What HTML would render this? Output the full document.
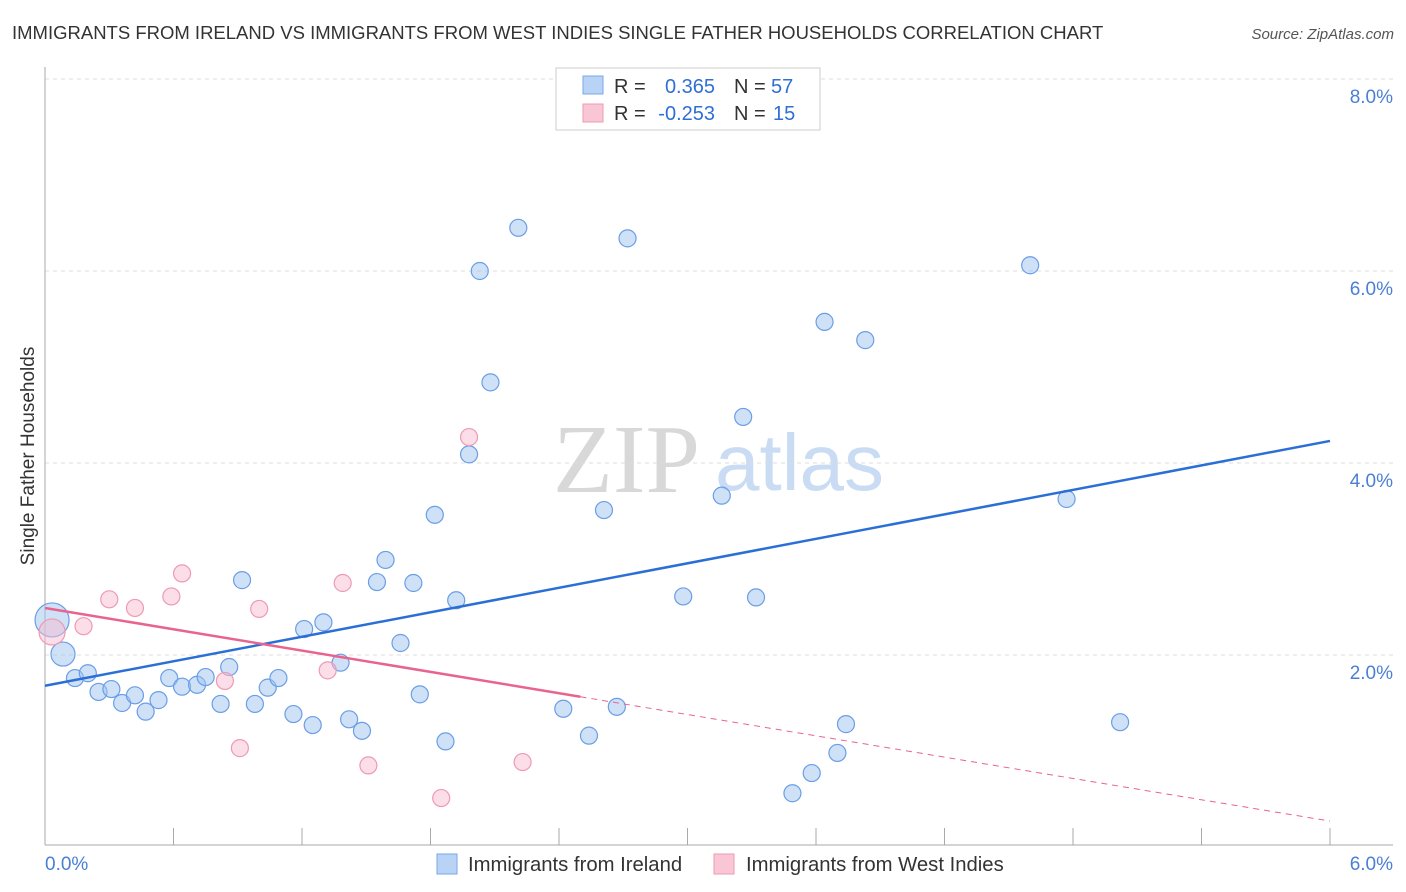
<!DOCTYPE html>
<html><head><meta charset="utf-8"><style>
body{margin:0;background:#fff;font-family:"Liberation Sans",sans-serif;}
#wrap{position:relative;width:1406px;height:892px;overflow:hidden;}
</style></head><body>
<div id="wrap">
<svg id="svg" width="1406" height="892" xmlns="http://www.w3.org/2000/svg">
<text x="12" y="39" font-size="18.5" fill="#333">IMMIGRANTS FROM IRELAND VS IMMIGRANTS FROM WEST INDIES SINGLE FATHER HOUSEHOLDS CORRELATION CHART</text>
<text x="1394" y="39" font-size="15" fill="#555" font-style="italic" text-anchor="end">Source: ZipAtlas.com</text>
<text x="553" y="492" font-size="98" fill="#d8d8d8" font-family="Liberation Serif,serif">ZIP</text>
<text x="715" y="490" font-size="80" fill="#c9dcf3">atlas</text>
<text transform="translate(34,456) rotate(-90)" font-size="19" fill="#333" text-anchor="middle">Single Father Households</text>
<g id="grid"></g>
<line x1="45" y1="67" x2="45" y2="845" stroke="#aaa"/>
<line x1="45" y1="845" x2="1393" y2="845" stroke="#aaa"/>
<g id="ticks"></g>
<g id="pts"></g>
<g id="lines"></g>
<text x="45" y="870" font-size="19" fill="#4a7fd4">0.0%</text>
<text x="1393" y="870" font-size="19" fill="#4a7fd4" text-anchor="end">6.0%</text>
<g>
<rect x="556" y="68" width="264" height="62" fill="#fff" stroke="#ccc"/>
<rect x="583" y="76" width="20" height="18" fill="#b8d3f5" stroke="#7aa7e6"/>
<rect x="583" y="104" width="20" height="18" fill="#f9c6d5" stroke="#ee9ab3"/>
<text x="614" y="93" font-size="20" fill="#333">R =</text>
<text x="715" y="93" font-size="20" fill="#2f6fd6" text-anchor="end">0.365</text>
<text x="734" y="93" font-size="20" fill="#333">N =</text>
<text x="771" y="93" font-size="20" fill="#2f6fd6">57</text>
<text x="614" y="120" font-size="20" fill="#333">R =</text>
<text x="715" y="120" font-size="20" fill="#2f6fd6" text-anchor="end">-0.253</text>
<text x="734" y="120" font-size="20" fill="#333">N =</text>
<text x="773" y="120" font-size="20" fill="#2f6fd6">15</text>
</g>
<g>
<rect x="437" y="854" width="20" height="20" fill="#b8d3f5" stroke="#7aa7e6"/>
<text x="468" y="871" font-size="20.3" fill="#333">Immigrants from Ireland</text>
<rect x="714" y="854" width="20" height="20" fill="#f9c6d5" stroke="#ee9ab3"/>
<text x="746" y="871" font-size="20.3" fill="#333">Immigrants from West Indies</text>
</g>
</svg>
</div>
<script>
const yTicks=[2,4,6,8];
const yTickLabels=["2.0%","4.0%","6.0%","8.0%"];
const xTickCount=10;
const blueX=[0.033,0.084,0.14,0.20,0.25,0.31,0.36,0.42,0.47,0.53,0.58,0.64,0.71,0.75,0.82,0.86,0.92,0.98,1.04,1.09,1.16,1.21,1.25,1.30,1.38,1.42,1.48,1.55,1.59,1.66,1.72,1.75,1.82,1.87,1.92,1.98,2.03,2.08,2.21,2.42,2.54,2.61,2.67,2.72,2.98,3.16,3.26,3.32,3.49,3.58,3.64,3.70,3.74,3.83,4.60,4.77,5.02];
const blueY=[2.365,2.01,1.76,1.81,1.615,1.645,1.50,1.58,1.41,1.53,1.76,1.67,1.69,1.77,1.49,1.875,2.78,1.49,1.66,1.76,1.385,2.27,1.27,2.34,1.92,1.33,1.21,2.76,2.99,2.125,2.75,1.59,3.46,1.10,2.57,4.09,6.00,4.84,6.45,1.44,1.16,3.51,1.46,6.34,2.61,3.66,4.48,2.60,0.56,0.77,5.47,0.98,1.28,5.28,6.06,3.625,1.30];
const pinkX=[0.033,0.18,0.30,0.42,0.59,0.64,0.84,0.91,1.00,1.32,1.39,1.51,1.85,1.98,2.23];
const pinkY=[2.24,2.30,2.58,2.49,2.61,2.85,1.73,1.03,2.48,1.84,2.75,0.85,0.51,4.27,0.885];
const blueTrend=[1.68,4.23];
const pinkTrend=[2.49,0.27];
const pinkSolidEnd=2.5;
const NS="http://www.w3.org/2000/svg";
const X=v=>45+v/6*1285;
const Y=v=>847-v*96;
function mk(tag,attrs,parent){const e=document.createElementNS(NS,tag);for(const k in attrs)e.setAttribute(k,attrs[k]);document.getElementById(parent).appendChild(e);return e;}
yTicks.forEach((t,i)=>{
 const l=mk('line',{x1:45,x2:1393,y1:Y(t),y2:Y(t),stroke:'#ddd','stroke-dasharray':'4,4'},'grid');
 
 
 const tx=mk('text',{x:1393,y:Y(t)+24,'font-size':19,fill:'#4a7fd4','text-anchor':'end'},'grid');
 tx.textContent=yTickLabels[i];
 
 
});
for(let i=1;i<=xTickCount;i++){
 const l=mk('line',{x1:X(i*0.6),x2:X(i*0.6),y1:828,y2:845,stroke:'#aaa'},'ticks');
 
 
}
blueX.forEach((x,i)=>{
 const r=i===0?17:(i===1?12:8.5);
 const c=mk('circle',{cx:X(x),cy:Y(blueY[i]),r:r,fill:'rgba(160,196,240,0.5)',stroke:'#6a9ee6','stroke-width':1.2},'pts');
 
 
});
pinkX.forEach((x,i)=>{
 const r=i===0?13:8.5;
 const c=mk('circle',{cx:X(x),cy:Y(pinkY[i]),r:r,fill:'rgba(248,190,210,0.5)',stroke:'#ee9ab3','stroke-width':1.2},'pts');
 
 
});
const bl=mk('line',{x1:X(0),y1:Y(blueTrend[0]),x2:X(6),y2:Y(blueTrend[1]),stroke:'#2a6fd6','stroke-width':2.5},'lines');


const pAt=x=>pinkTrend[0]+(pinkTrend[1]-pinkTrend[0])*x/6;
const pl=mk('line',{x1:X(0),y1:Y(pinkTrend[0]),x2:X(pinkSolidEnd),y2:Y(pAt(pinkSolidEnd)),stroke:'#e8648f','stroke-width':2.5},'lines');


const pd=mk('line',{x1:X(pinkSolidEnd),y1:Y(pAt(pinkSolidEnd)),x2:X(6),y2:Y(pinkTrend[1]),stroke:'#e8648f','stroke-width':1,'stroke-dasharray':'6,5'},'lines');


</script>
</body></html>
